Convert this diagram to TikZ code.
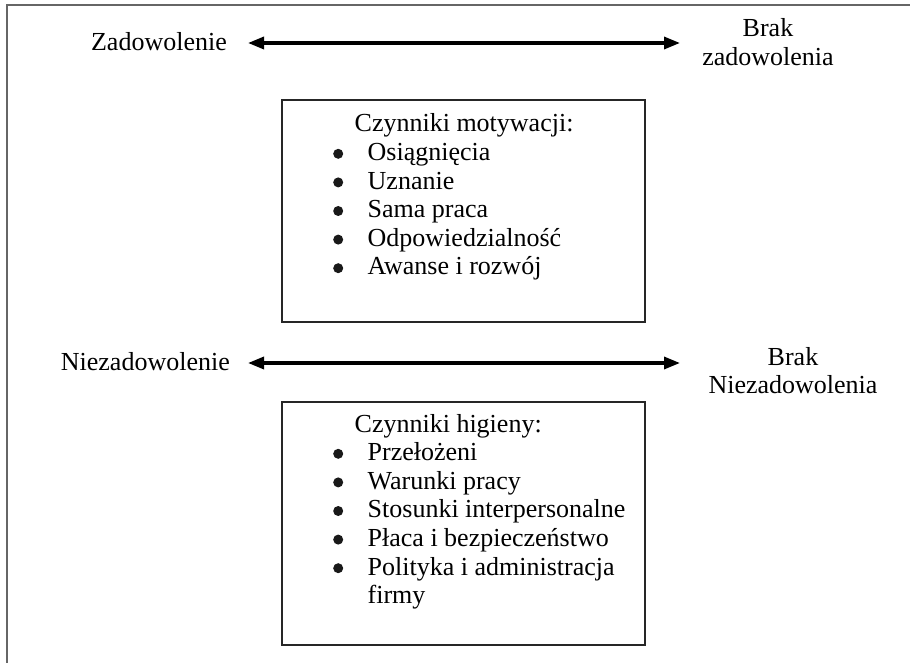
\documentclass[tikz,border=0pt]{standalone}
\usepackage{fontspec}
\setmainfont{Liberation Serif}
\usetikzlibrary{arrows.meta}

\tikzset{
  lbl/.style={inner sep=0pt, font=\fontsize{26}{28.6}\selectfont},
  factorbox/.style={draw=black!85, line width=1.5pt, inner sep=0pt},
  scale arrow/.style={line width=3.3pt, {Triangle[length=16pt,width=12pt]}-{Triangle[length=16pt,width=12pt]}},
  frameline/.style={draw=black!60, line width=1.7pt}
}

% list markers: a solid round dot in a fixed-width column
\newcommand{\bul}{\makebox[34.5pt][l]{\tikz[baseline=0pt]\fill[black!90] (5pt,6.8pt) circle (5pt);}}
\newcommand{\nobul}{\hspace*{34.5pt}}
\newcommand{\hdr}{\hspace*{21.5pt}}

\begin{document}
\begin{tikzpicture}[x=1pt, y=-1pt]
  \useasboundingbox (0,0) rectangle (910,663);

  % partial outer frame
  \draw[frameline] (7,663) -- (7,5) -- (910,5);

  % satisfaction scale
  \node[lbl, anchor=base east] (zad) at (227,51) {Zadowolenie};
  \node[lbl, anchor=base] (brakzad) at (768,37)
    {\begin{tabular}[t]{@{}c@{}}Brak\\zadowolenia\end{tabular}};
  \coordinate (zadL) at (248,43);
  \coordinate (zadR) at (680,43);
  \draw[scale arrow] (zadL) -- (zadR);

  % motivators
  \node[factorbox, minimum width=363pt, minimum height=222pt] (motbox) at (463.5,211) {};
  \node[lbl, anchor=base west] (motlist) at (333,132)
    {\begin{tabular}[t]{@{}l@{}}
      \hdr Czynniki motywacji:\\
      \bul Osiągnięcia\\
      \bul Uznanie\\
      \bul Sama praca\\
      \bul Odpowiedzialność\\
      \bul Awanse i rozwój
    \end{tabular}};

  % dissatisfaction scale
  \node[lbl, anchor=base east] (niezad) at (230,370) {Niezadowolenie};
  \node[lbl, anchor=base] (brakniezad) at (793,365)
    {\begin{tabular}[t]{@{}c@{}}Brak\\Niezadowolenia\end{tabular}};
  \coordinate (niezadL) at (248,363);
  \coordinate (niezadR) at (680,363);
  \draw[scale arrow] (niezadL) -- (niezadR);

  % hygiene factors
  \node[factorbox, minimum width=363pt, minimum height=243pt] (higbox) at (463.5,523.5) {};
  \node[lbl, anchor=base west] (higlist) at (333,432)
    {\begin{tabular}[t]{@{}l@{}}
      \hdr Czynniki higieny:\\
      \bul Przełożeni\\
      \bul Warunki pracy\\
      \bul Stosunki interpersonalne\\
      \bul Płaca i bezpieczeństwo\\
      \bul Polityka i administracja\\
      \nobul firmy
    \end{tabular}};
\end{tikzpicture}
\end{document}
